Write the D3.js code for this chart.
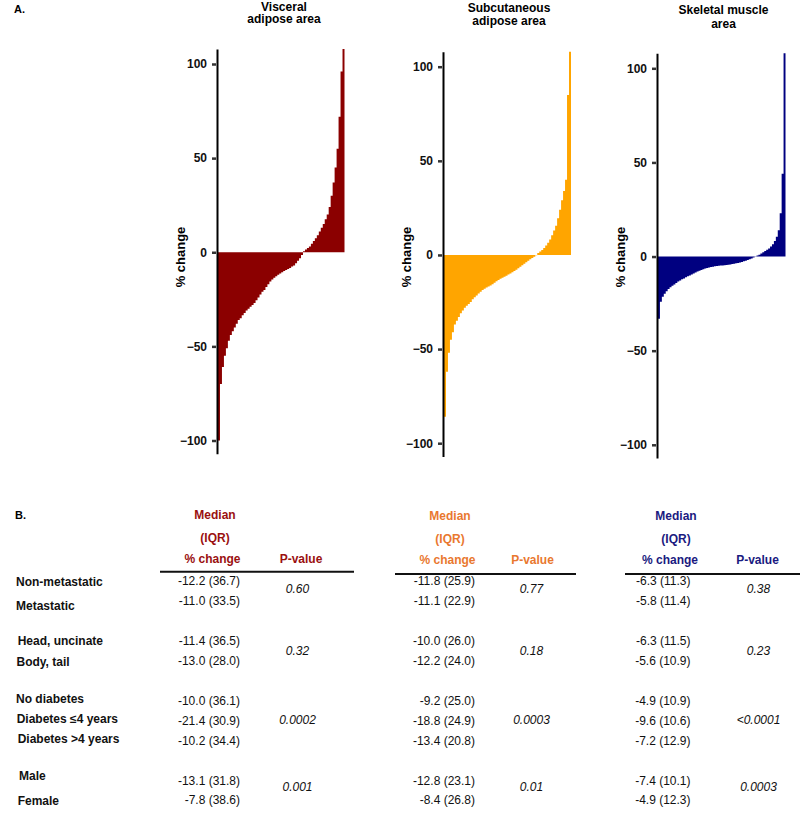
<!DOCTYPE html>
<html>
<head>
<meta charset="utf-8">
<style>
  body { margin: 0; background: #fff; }
  svg { display: block; font-family: 'Liberation Sans', Arial, sans-serif; }
  .axis .tick text { font-weight: bold; font-size: 12px; fill: #111; }
  .axis .tick line { stroke: #333; stroke-width: 2.5; }
  .axis .domain { stroke: #000; stroke-width: 2; }
</style>
</head>
<body>
<svg width="800" height="814"></svg>
<script src="https://d3js.org/d3.v7.min.js"></script>
<script>
// ---- data ----
const titles = [["Visceral", "adipose area"], ["Subcutaneous", "adipose area"], ["Skeletal muscle", "area"]];
const barColors = ["#8b0000", "#ffa500", "#000080"];
const headColors = ["#9a1010", "#e9782f", "#1a1a80"];
const yTicks = [-100, -50, 0, 50, 100];

// % change per patient, sorted
const visceral = [-100, -70, -61, -55, -51, -47, -44, -42, -40, -38, -36, -35, -33.5, -32.3, -31, -30,
  -29, -28, -27, -25.5, -24, -22.5, -21, -20, -18.5, -17, -15.5, -14.5, -13.5, -12.8, -12, -11.3,
  -10.6, -10, -9.4, -8.9, -8.3, -7.6, -7, -5.8, -4.5, -3.2, -1.5, 0.5, 1.5, 2.3, 3, 4.5,
  6, 7.5, 9, 11, 13, 15, 17.5, 20, 24, 30, 37, 45, 55, 72, 96, 115];
const subcutaneous = [-86, -62, -52, -45, -41, -37, -35, -33, -31, -29.5, -28, -27, -26, -25, -23.5, -22.5,
  -21.5, -20.5, -19.5, -18.6, -18, -17.3, -16.8, -16.2, -15.6, -14.8, -14, -13.3, -12.7, -12.1, -11.6, -11,
  -10.4, -9.8, -9.2, -8.5, -7.8, -7.1, -6.3, -5.5, -4.7, -3.9, -3.1, -2.3, -1.6, -0.9, -0.2, 1,
  1.8, 2.6, 3.7, 5, 6.5, 8.2, 10.5, 13, 15.5, 19.5, 24, 29, 34, 40, 85, 115];
const muscle = [-33, -24, -21.3, -19.8, -18.4, -17.3, -16.3, -15.5, -14.8, -14, -13.3, -12.7, -12.1, -11.6, -11, -10.5,
  -10, -9.5, -9, -8.5, -8, -7.6, -7.2, -6.8, -6.4, -6.1, -5.8, -5.6, -5.4, -5.2, -5.0, -4.9,
  -4.8, -4.7, -4.6, -4.5, -4.4, -4.2, -4.0, -3.8, -3.6, -3.4, -3.2, -2.9, -2.5, -2.2, -1.8, -1.4,
  -1.0, -0.5, 0.2, 0.6, 1.0, 1.6, 2.3, 3.0, 3.6, 4.3, 5.3, 6.5, 8.2, 10.5, 14, 23, 44, 115];

const rowLabels = ["Non-metastatic", "Metastatic", "Head, uncinate", "Body, tail", "No diabetes",
  "Diabetes \u22644 years", "Diabetes >4 years", "Male", "Female"];
const visceralMedian = [-12.2, -11.0, -11.4, -13.0, -10.0, -21.4, -10.2, -13.1, -7.8];
const visceralIQR = [36.7, 33.5, 36.5, 28.0, 36.1, 30.9, 34.4, 31.8, 38.6];
const subcutMedian = [-11.8, -11.1, -10.0, -12.2, -9.2, -18.8, -13.4, -12.8, -8.4];
const subcutIQR = [25.9, 22.9, 26.0, 24.0, 25.0, 24.9, 20.8, 23.1, 26.8];
const muscleMedian = [-6.3, -5.8, -6.3, -5.6, -4.9, -9.6, -7.2, -7.4, -4.9];
const muscleIQR = [11.3, 11.4, 11.5, 10.9, 10.9, 10.6, 12.9, 10.1, 12.3];
const visceralP = ["0.60", "0.32", "0.0002", "0.001"];
const subcutP = ["0.77", "0.18", "0.0003", "0.01"];
const muscleP = ["0.38", "0.23", "<0.0001", "0.0003"];

// ---- layout ----
const svg = d3.select("svg");
const pxPerUnit = 1.8825;
const panels = [
  { values: visceral, axisX: 217, y100: 64, right: 344.5, titleX: 284, titleY: [10.5, 23.3] },
  { values: subcutaneous, axisX: 443, y100: 66.7, right: 571, titleX: 509, titleY: [12, 25] },
  { values: muscle, axisX: 657, y100: 68.3, right: 785.5, titleX: 723.5, titleY: [14, 28] }
];

svg.append("text").attr("x", 14).attr("y", 13)
  .attr("font-size", "11px").attr("font-weight", "bold").text("A.");

panels.forEach((p, k) => {
  let g = svg.append("g");
  let n = p.values.length;

  let y = d3.scaleLinear()
    .domain([-107, 108])
    .range([p.y100 + 207 * pxPerUnit, p.y100 - 8 * pxPerUnit])
    .clamp(true);

  let x = d3.scaleLinear()
    .domain([0, n])
    .range([p.axisX + 1, p.right]);

  // one step per patient; repeat the last value to close the final bar
  let steps = p.values.map((v, i) => [i, v]).concat([[n, p.values[n - 1]]]);

  let area = d3.area()
    .x(d => x(d[0]))
    .y0(y(0))
    .y1(d => y(d[1]))
    .curve(d3.curveStepAfter);

  g.append("path")
    .datum(steps)
    .attr("d", area)
    .attr("fill", barColors[k]);

  g.append("g")
    .attr("class", "axis")
    .attr("transform", `translate(${p.axisX},0)`)
    .call(d3.axisLeft(y).tickValues(yTicks).tickSize(5).tickSizeOuter(0).tickPadding(5))
    .selectAll(".tick line").attr("x2", -5).attr("x1", -1);

  g.append("text")
    .attr("transform", `translate(${p.axisX - 32},257) rotate(-90)`)
    .attr("text-anchor", "middle")
    .attr("font-size", "13px").attr("font-weight", "bold")
    .text("% change");

  titles[k].forEach((t, j) => {
    g.append("text")
      .attr("x", p.titleX).attr("y", p.titleY[j])
      .attr("text-anchor", "middle")
      .attr("font-size", "12px").attr("font-weight", "bold")
      .text(t);
  });
});

// ---- table B ----
svg.append("text").attr("x", 15).attr("y", 519)
  .attr("font-size", "11px").attr("font-weight", "bold").text("B.");

const rowLabelY = [585.7, 610, 645, 665.5, 702.7, 723.3, 743.3, 780, 805];
const rowLabelX = [16, 16, 17.7, 16.5, 16, 16.7, 17.7, 19, 17.7];
const valueY = [585, 604.5, 645, 664.5, 704.5, 725, 744.5, 784.5, 804];
const pY = [593, 655, 724, 791];

svg.append("g").selectAll("text")
  .data(rowLabels)
  .join("text")
  .attr("x", (d, i) => rowLabelX[i])
  .attr("y", (d, i) => rowLabelY[i])
  .attr("font-size", "12px").attr("font-weight", "bold").attr("fill", "#111")
  .text(d => d);

const groups = [
  { med: visceralMedian, iqr: visceralIQR, p: visceralP, valRight: 240, medX: 215, chX: 212.5, pHeadX: 301, pX: 297.5, headY: [518.5, 541.5, 562.5], ruleY: 571.7, rule: [160, 354] },
  { med: subcutMedian, iqr: subcutIQR, p: subcutP, valRight: 475, medX: 450, chX: 447.5, pHeadX: 532.5, pX: 531.5, headY: [520, 543, 564], ruleY: 574, rule: [395, 576] },
  { med: muscleMedian, iqr: muscleIQR, p: muscleP, valRight: 690.5, medX: 676, chX: 670, pHeadX: 757.5, pX: 758.5, headY: [520, 543, 564], ruleY: 574, rule: [625, 800] }
];

groups.forEach((t, k) => {
  let g = svg.append("g").attr("font-size", "12px");
  let head = g.append("g").attr("font-weight", "bold").attr("fill", headColors[k]).attr("text-anchor", "middle");
  head.append("text").attr("x", t.medX).attr("y", t.headY[0]).text("Median");
  head.append("text").attr("x", t.medX).attr("y", t.headY[1]).text("(IQR)");
  head.append("text").attr("x", t.chX).attr("y", t.headY[2]).text("% change");
  head.append("text").attr("x", t.pHeadX).attr("y", t.headY[2]).text("P-value");

  g.append("line")
    .attr("x1", t.rule[0]).attr("x2", t.rule[1])
    .attr("y1", t.ruleY).attr("y2", t.ruleY)
    .attr("stroke", "#111").attr("stroke-width", 2);

  g.append("g").selectAll("text")
    .data(t.med)
    .join("text")
    .attr("x", t.valRight)
    .attr("y", (d, i) => valueY[i])
    .attr("text-anchor", "end").attr("fill", "#111")
    .text((d, i) => `${d.toFixed(1)} (${t.iqr[i].toFixed(1)})`);

  g.append("g").selectAll("text")
    .data(t.p)
    .join("text")
    .attr("x", t.pX)
    .attr("y", (d, i) => pY[i])
    .attr("text-anchor", "middle").attr("font-style", "italic").attr("fill", "#111")
    .text(d => d);
});
</script>
</body>
</html>
